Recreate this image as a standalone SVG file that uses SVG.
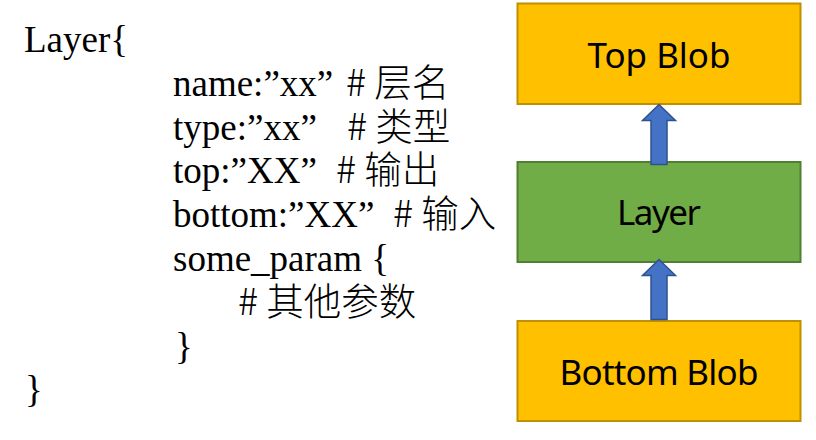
<svg xmlns="http://www.w3.org/2000/svg" width="816" height="440" viewBox="0 0 816 440">
<style>
.code{font-family:"Liberation Serif","Noto Sans CJK SC",serif;font-size:37px;fill:#000}
.cjk{font-family:"Noto Sans CJK SC","Noto Sans",sans-serif;font-size:37.5px;font-weight:300}
.blob{fill:#FFC000;stroke:#BF9000;stroke-width:2}
.layer{fill:#70AD47;stroke:#507E32;stroke-width:2}
.lbl{font-family:"Noto Sans","Noto Sans CJK SC",sans-serif;font-size:35px;fill:#000;text-anchor:middle}
.arr{fill:#4472C4;stroke:#2F528F;stroke-width:1.5}
</style>
<rect width="816" height="440" fill="#fff"/>
<g id="code">
<text class="code" x="24" y="52">Layer{</text>
<text class="code" y="95.8"><tspan x="173">name:”xx”</tspan><tspan class="cjk" x="346"># 层名</tspan></text>
<text class="code" y="139.6"><tspan x="173">type:”xx”</tspan><tspan class="cjk" x="347"># 类型</tspan></text>
<text class="code" y="183.4"><tspan x="173">top:”XX”</tspan><tspan class="cjk" x="336"># 输出</tspan></text>
<text class="code" y="227.2"><tspan x="173">bottom:”XX”</tspan><tspan class="cjk" x="393"># 输入</tspan></text>
<text class="code" x="173" y="271">some_param {</text>
<text class="code" y="314.8"><tspan class="cjk" x="238"># 其他参数</tspan></text>
<text class="code" x="175" y="358.6">}</text>
<text class="code" x="25" y="402.4">}</text>
</g>
<g id="top-blob">
<rect class="blob" x="517.5" y="3.5" width="283" height="100.5"/>
<text class="lbl" x="659" y="68.3" textLength="143">Top Blob</text>
</g>
<g id="layer">
<rect class="layer" x="517.5" y="162" width="283" height="100"/>
<text class="lbl" x="659" y="225" textLength="84">Layer</text>
</g>
<g id="bottom-blob">
<rect class="blob" x="517.5" y="321" width="283" height="100"/>
<text class="lbl" x="659" y="385" textLength="199">Bottom Blob</text>
</g>
<g id="connectors">
<polygon class="arr" points="659,104.5 675.5,120.5 667,120.5 667,164.5 651,164.5 651,120.5 642.5,120.5"/>
<polygon class="arr" points="659,259.5 675.5,275.5 667,275.5 667,319.5 651,319.5 651,275.5 642.5,275.5"/>
</g>
</svg>
